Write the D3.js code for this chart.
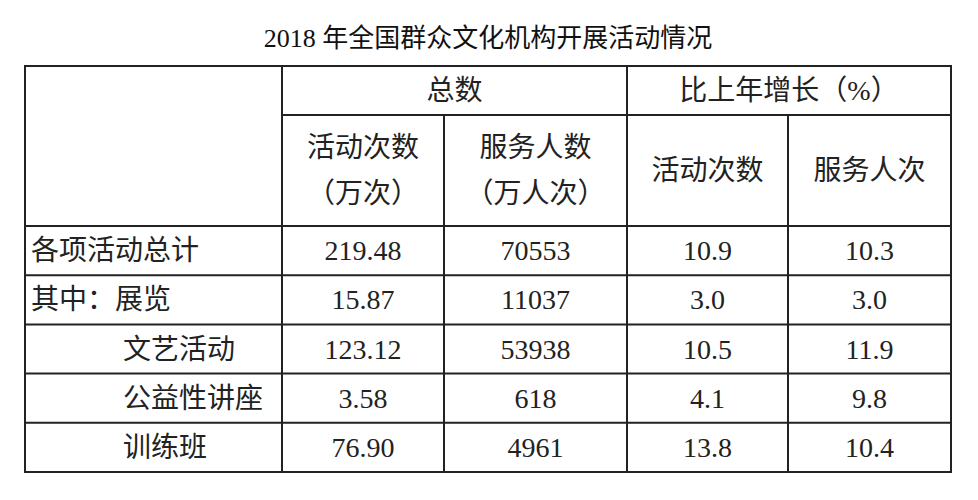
<!DOCTYPE html>
<html><head><meta charset="utf-8">
<script src="https://cdn.jsdelivr.net/npm/d3@7"></script>
<style>body{margin:0;background:#fff}</style></head>
<body><svg id="c" width="978" height="500"></svg>
<script>
const title = "2018 年全国群众文化机构开展活动情况";
const groupHeaders = ["总数", "比上年增长（%）"];
const colHeaders = [["活动次数","（万次）"],["服务人数","（万人次）"],["活动次数"],["服务人次"]];
const rowLabels = ["各项活动总计","其中：展览","文艺活动","公益性讲座","训练班"];
const rowIndent = [0,0,1,1,1];
const activityCount = ["219.48","15.87","123.12","3.58","76.90"];
const servedPeople = ["70553","11037","53938","618","4961"];
const growthActivity = ["10.9","3.0","10.5","4.1","13.8"];
const growthServed = ["10.3","3.0","11.9","9.8","10.4"];

(function(){
const svg = d3.select("#c");
const cjk = "'Liberation Serif','Noto Sans CJK SC',serif";
const ink = "#222";
const colEdges = [25,282,444,627,788,951];
const x = d3.scaleOrdinal().domain(d3.range(6)).range(colEdges);
const yRow = d3.scaleBand().domain(d3.range(rowLabels.length)).range([226,472]);
const yTop = 66, yMid = 115, hb = 226;

svg.append("text").attr("x",488).attr("y",47).attr("text-anchor","middle")
  .attr("font-family",cjk).attr("font-size",26).attr("fill","#111").text(title);

const L = (x1,y1,x2,y2)=>svg.append("line").attr("x1",x1).attr("y1",y1).attr("x2",x2).attr("y2",y2)
  .attr("stroke",ink).attr("stroke-width",2);
svg.append("rect").attr("x",x(0)).attr("y",yTop).attr("width",x(5)-x(0)).attr("height",472-yTop)
  .attr("fill","none").attr("stroke",ink).attr("stroke-width",2);
L(x(1),yTop,x(1),472); L(x(3),yTop,x(3),472);
L(x(2),yMid,x(2),472); L(x(4),yMid,x(4),472);
L(x(1),yMid,x(5),yMid);
L(x(0),hb,x(5),hb);
rowLabels.forEach((_,i)=>{ if(i>0) L(x(0),yRow(i),x(5),yRow(i)); });

const T = (tx,ty,s,anchor="middle")=>svg.append("text").attr("x",tx).attr("y",ty)
  .attr("text-anchor",anchor).attr("dominant-baseline","central")
  .attr("font-family",cjk).attr("font-size",28).attr("fill",ink).text(s);

T((x(1)+x(3))/2,(yTop+yMid)/2,groupHeaders[0]);
T((x(3)+x(5))/2,(yTop+yMid)/2,groupHeaders[1]);
colHeaders.forEach((h,j)=>{
  const cx=(x(j+1)+x(j+2))/2, cy=(yMid+hb)/2;
  if(h.length===1) T(cx,cy,h[0]);
  else { T(cx,cy-23,h[0]); T(cx,cy+23,h[1]); }
});
const cols=[activityCount,servedPeople,growthActivity,growthServed];
rowLabels.forEach((lab,i)=>{
  const cy=yRow(i)+yRow.bandwidth()/2;
  T(rowIndent[i]?123:31,cy,lab,"start");
  cols.forEach((c,j)=>T((x(j+1)+x(j+2))/2,cy,c[i]));
});
})();
</script></body></html>
